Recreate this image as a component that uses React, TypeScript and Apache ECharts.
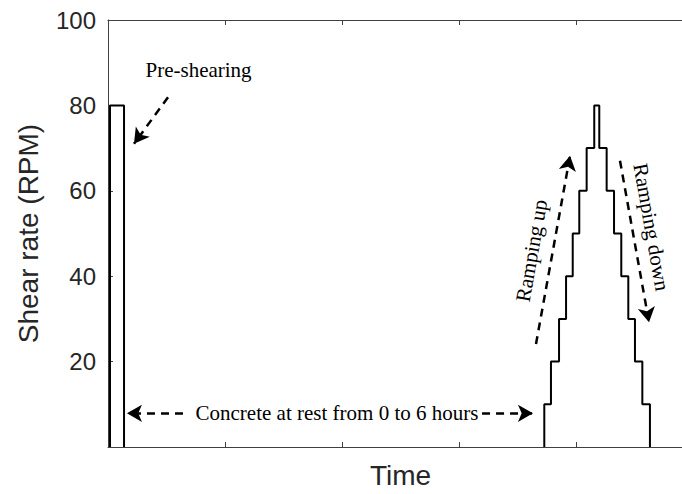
import React, { useEffect, useRef } from "react";
import * as echarts from "echarts";

// Time axis in arbitrary units (tick spacing = 1), shear rate in RPM
const xTicks = [0, 1, 2, 3, 4, 5];
const yTickLabels = [20, 40, 60, 80, 100];

const preShearTimes = [0.017, 0.137];
const preShearLevel = 80;

const rampUpTimes = [3.729, 3.786, 3.855, 3.915, 3.972, 4.028, 4.091, 4.156];
const rampUpLevels = [10, 20, 30, 40, 50, 60, 70, 80];
const rampDownTimes = [4.199, 4.262, 4.325, 4.387, 4.447, 4.504, 4.567, 4.632];
const rampDownLevels = [70, 60, 50, 40, 30, 20, 10, 0];

// annotation arrows: [fromX, fromY, toX, toY] in data coords
const arrowPreShear = [0.513, 81.9, 0.222, 71.0];
const arrowRestLeft = [0.641, 7.89, 0.162, 7.89];
const arrowRestRight = [3.197, 7.89, 3.632, 7.89];
const arrowRampUp = [3.658, 24.1, 3.949, 68.2];
const arrowRampDown = [4.376, 67.05, 4.624, 29.2];

// annotation texts: [label, x, y, rotationDeg]
const notes: [string, number, number, number][] = [
  ["Pre-shearing", 0.774, 88.4, 0],
  ["Concrete at rest from 0 to 6 hours", 1.957, 7.89, 0],
  ["Ramping up", 3.62, 46.0, 80],
  ["Ramping down", 4.645, 51.5, -80],
];

function buildRamp(): number[][] {
  const pts: number[][] = [];
  let cur = 0;
  for (let i = 0; i < rampUpTimes.length; i++) {
    pts.push([rampUpTimes[i], cur]);
    pts.push([rampUpTimes[i], rampUpLevels[i]]);
    cur = rampUpLevels[i];
  }
  for (let i = 0; i < rampDownTimes.length; i++) {
    pts.push([rampDownTimes[i], cur]);
    pts.push([rampDownTimes[i], rampDownLevels[i]]);
    cur = rampDownLevels[i];
  }
  return pts;
}

function buildPreShear(): number[][] {
  return [
    [preShearTimes[0], 0],
    [preShearTimes[0], preShearLevel],
    [preShearTimes[1], preShearLevel],
    [preShearTimes[1], 0],
  ];
}

const arrowSeg = (a: number[]) => [
  { coord: [a[0], a[1]], symbol: "none" },
  { coord: [a[2], a[3]], symbol: "arrow" },
];

export default function App() {
  const ref = useRef<HTMLDivElement>(null);
  useEffect(() => {
    if (!ref.current) return;
    const chart = echarts.init(ref.current, undefined, { renderer: "svg" });
    const axisColor = "#404040";
    const mkAxis = (extra: any) => ({
      type: "value",
      axisLine: { show: true, onZero: false, lineStyle: { color: axisColor, width: 1 } },
      axisTick: { show: true, inside: true, length: 5, lineStyle: { color: axisColor, width: 1 } },
      splitLine: { show: false },
      ...extra,
    });
    chart.setOption({
      animation: false,
      grid: { left: 108, top: 20, right: 7, bottom: 43, containLabel: false },
      xAxis: [
        mkAxis({
          min: xTicks[0],
          max: xTicks[xTicks.length - 1],
          interval: 1,
          position: "bottom",
          axisLabel: { show: false },
          name: "Time",
          nameLocation: "middle",
          nameGap: 14,
          nameTextStyle: { fontFamily: "Liberation Sans", fontSize: 28, color: "#262626" },
        }),
        mkAxis({
          min: xTicks[0],
          max: xTicks[xTicks.length - 1],
          interval: 1,
          position: "top",
          axisLabel: { show: false },
        }),
      ],
      yAxis: [
        mkAxis({
          min: 0,
          max: 100,
          interval: 20,
          position: "left",
          axisLabel: {
            show: true,
            margin: 12,
            fontFamily: "Liberation Sans",
            fontSize: 24,
            color: "#262626",
            formatter: (v: number) => (yTickLabels.includes(v) ? String(v) : ""),
          },
          name: "Shear rate (RPM)",
          nameLocation: "middle",
          nameGap: 66,
          nameTextStyle: { fontFamily: "Liberation Sans", fontSize: 28, color: "#262626" },
        }),
        mkAxis({
          min: 0,
          max: 100,
          interval: 20,
          position: "right",
          axisLabel: { show: false },
        }),
      ],
      series: [
        {
          type: "line",
          data: buildPreShear(),
          showSymbol: false,
          lineStyle: { color: "#000", width: 2 },
          silent: true,
        },
        {
          type: "line",
          data: buildRamp(),
          showSymbol: false,
          lineStyle: { color: "#000", width: 2 },
          silent: true,
          markLine: {
            silent: true,
            animation: false,
            symbolSize: [13, 15],
            label: { show: false },
            lineStyle: { color: "#000", width: 2.5, type: [8, 6] },
            emphasis: { disabled: true },
            data: [
              arrowSeg(arrowPreShear),
              arrowSeg(arrowRestLeft),
              arrowSeg(arrowRestRight),
              arrowSeg(arrowRampUp),
              arrowSeg(arrowRampDown),
            ],
          },
        },
      ],
    });
    const texts = notes.map(([label, x, y, rot]) => {
      const p = chart.convertToPixel({ xAxisIndex: 0, yAxisIndex: 0 }, [x, y]) as number[];
      return {
        type: "text",
        x: p[0],
        y: p[1],
        rotation: (rot * Math.PI) / 180,
        style: {
          text: label,
          fontFamily: "Liberation Serif",
          fontSize: 21,
          fill: "#000",
          align: "center",
          verticalAlign: "middle",
        },
        silent: true,
      };
    });
    chart.setOption({ graphic: texts });
    return () => chart.dispose();
  }, []);
  return (
    <div style={{ position: "fixed", left: 0, top: 0, width: 682, height: 494, overflow: "hidden", background: "#fff" }}>
      <div ref={ref} style={{ width: 700, height: 494 }} />
    </div>
  );
}
